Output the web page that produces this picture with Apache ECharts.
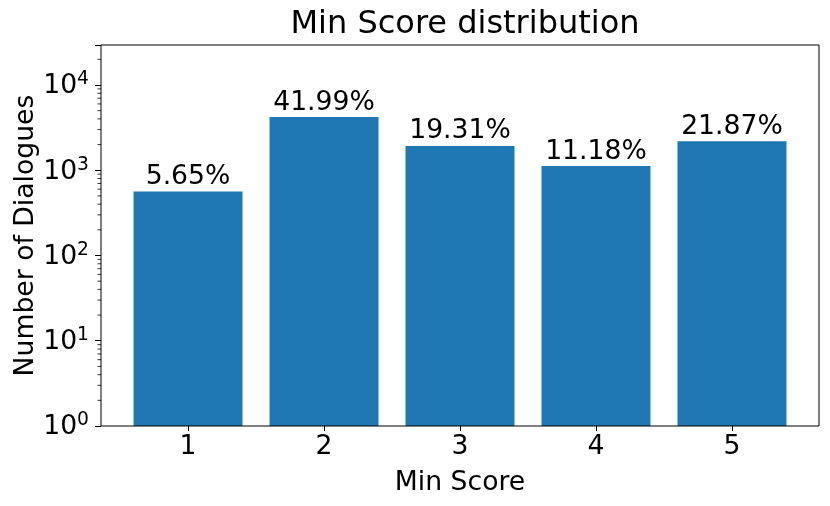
<!DOCTYPE html>
<html>
<head>
<meta charset="utf-8">
<script src="https://cdn.jsdelivr.net/npm/echarts@6/dist/echarts.min.js"></script>
<style>
html,body{margin:0;padding:0;background:#fff;}
#chart{width:830px;height:506px;}
</style>
</head>
<body>
<div id="chart"></div>
<script>
// ---- data ----
var categories = ['1', '2', '3', '4', '5'];
var scores = [1, 2, 3, 4, 5];
var counts = [565, 4199, 1931, 1118, 2187];
var percents = [5.65, 41.99, 19.31, 11.18, 21.87];
var majorTicks = [1, 10, 100, 1000, 10000];
var minorTicks = [2, 3, 4, 5, 6, 7, 8, 9,
  20, 30, 40, 50, 60, 70, 80, 90,
  200, 300, 400, 500, 600, 700, 800, 900,
  2000, 3000, 4000, 5000, 6000, 7000, 8000, 9000,
  20000];
var titleText = 'Min Score distribution';
var xName = 'Min Score';
var yName = 'Number of Dialogues';

// ---- layout ----
var FONT = 'DejaVu Sans';
var X_MIN = 0.36, X_MAX = 5.64;
var Y_MIN = 1, Y_MAX = 29450;

var chart = echarts.init(document.getElementById('chart'), null, {renderer: 'canvas'});

var barData = scores.map(function (s, i) { return [s, counts[i]]; });

function logLabel(v) {
  var l = Math.log10(v);
  var n = Math.round(l);
  if (Math.abs(l - n) > 1e-6) return '';
  return '{b|10}{s|' + n + '}';
}

var option = {
  animation: false,
  backgroundColor: '#ffffff',
  title: {
    text: titleText,
    left: 460,
    textAlign: 'center',
    top: 4,
    textStyle: {fontFamily: FONT, fontSize: 32, fontWeight: 'normal', color: '#000'}
  },
  grid: [
    {left: 101, right: 11, top: 45, bottom: 80, show: true, borderColor: '#000', borderWidth: 1,
      backgroundColor: 'transparent', z: 10, containLabel: false, outerBoundsMode: 'none'},
    {left: 120, right: 30, top: 45, bottom: 80, show: false, containLabel: false, outerBoundsMode: 'none'}
  ],
  xAxis: [
    {
      type: 'value', gridIndex: 0, min: X_MIN, max: X_MAX,
      axisLine: {show: false}, axisTick: {show: false}, axisLabel: {show: false},
      splitLine: {show: false},
      name: xName, nameLocation: 'middle', nameGap: 44, nameMoveOverlap: false,
      nameTextStyle: {fontFamily: FONT, fontSize: 26.67, color: '#000'}
    },
    {
      type: 'category', gridIndex: 1, data: categories, boundaryGap: true,
      axisLine: {show: false},
      axisTick: {show: true, alignWithLabel: true, length: 5, lineStyle: {color: '#000', width: 1}},
      axisLabel: {fontFamily: FONT, fontSize: 26.67, color: '#000', margin: 8},
      splitLine: {show: false}
    }
  ],
  yAxis: [
    {
      type: 'log', gridIndex: 0, logBase: 10, min: Y_MIN, max: Y_MAX,
      axisLine: {show: false},
      axisTick: {show: true, length: 6, lineStyle: {color: '#000', width: 1}},
      minorTick: {show: false},
      splitLine: {show: false},
      axisLabel: {
        margin: 12,
        formatter: logLabel,
        rich: {
          b: {fontFamily: FONT, fontSize: 26.67, color: '#000', verticalAlign: 'bottom', lineHeight: 30},
          s: {fontFamily: FONT, fontSize: 18.7, color: '#000', verticalAlign: 'top', lineHeight: 20}
        }
      },
      name: yName, nameLocation: 'middle', nameGap: 61, nameRotate: 90, nameMoveOverlap: false,
      nameTextStyle: {fontFamily: FONT, fontSize: 26.67, color: '#000'}
    },
    {
      type: 'value', gridIndex: 1, show: false
    }
  ],
  series: [
    {
      type: 'bar',
      xAxisIndex: 0, yAxisIndex: 0,
      data: barData,
      barWidth: 109,
      itemStyle: {color: '#1f77b4'},
      label: {
        show: true, position: 'top', distance: 1,
        fontFamily: FONT, fontSize: 26.67, color: '#000',
        formatter: function (p) { return percents[p.dataIndex].toFixed(2) + '%'; }
      }
    },
    {
      type: 'custom',
      xAxisIndex: 0, yAxisIndex: 0,
      data: minorTicks.filter(function (v) { return v <= Y_MAX; }),
      clip: false,
      silent: true,
      z: 11,
      renderItem: function (params, api) {
        var p = api.coord([X_MIN, api.value(0)]);
        return {
          type: 'line',
          shape: {x1: p[0] - 3.5, y1: p[1], x2: p[0], y2: p[1]},
          style: {stroke: '#000', lineWidth: 0.8}
        };
      },
      encode: {y: 0}
    }
  ]
};
chart.setOption(option);
</script>
</body>
</html>
